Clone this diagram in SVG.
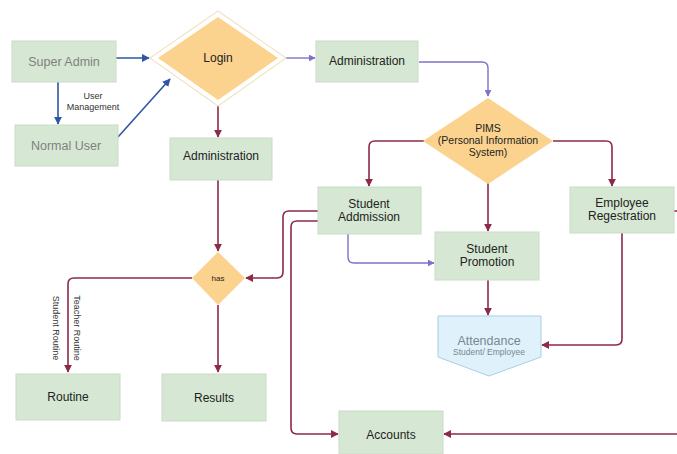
<svg xmlns="http://www.w3.org/2000/svg" width="677" height="454" viewBox="0 0 677 454">
<defs>
<marker id="ar" viewBox="0 0 10 10" refX="9" refY="5" markerWidth="5" markerHeight="5" orient="auto-start-reverse"><path d="M0,0 L10,5 L0,10 z" fill="#8c2a48"/></marker>
<marker id="ab" viewBox="0 0 10 10" refX="9" refY="5" markerWidth="5" markerHeight="5" orient="auto-start-reverse"><path d="M0,0 L10,5 L0,10 z" fill="#2f56a6"/></marker>
<marker id="ap" viewBox="0 0 10 10" refX="9" refY="5" markerWidth="5" markerHeight="5" orient="auto-start-reverse"><path d="M0,0 L10,5 L0,10 z" fill="#7c72c8"/></marker>
</defs>
<style>
text{font-family:"Liberation Sans",Arial,sans-serif;font-size:12px;fill:#222;text-anchor:middle}
.box{fill:#d6e8d3;stroke:#c8dcc4;stroke-width:1}
.gray{fill:#808080;font-size:12.5px}
.dia{fill:#fcd38e;stroke:none}
.r{fill:none;stroke:#8c2a48;stroke-width:1.6;marker-end:url(#ar)}
.b{fill:none;stroke:#2f56a6;stroke-width:1.6;marker-end:url(#ab)}
.p{fill:none;stroke:#7c72c8;stroke-width:1.4;marker-end:url(#ap)}
.sm{font-size:9px;fill:#333}
.pims{font-size:10.5px}
.att{fill:#7b8791;font-size:12.5px}
.att2{fill:#7b8791;font-size:8.5px}
.has{font-size:8px}
</style>
<rect width="677" height="454" fill="#fff"/>
<g id="connectors">
<path class="b" d="M116,58 H149"/>
<path class="b" d="M58,82 V124"/>
<path class="b" d="M118,137 L170,79"/>
<path class="r" d="M218,105 V137"/>
<path class="p" d="M285,58 H315"/>
<path class="p" d="M419,62 H482 Q488,62 488,68 V96"/>
<path class="r" d="M424,141 H375 Q369,141 369,147 V186"/>
<path class="r" d="M553,141 H606 Q612,141 612,147 V186"/>
<path class="r" d="M488,183 V231"/>
<path class="p" d="M348,234 V257 Q348,263 354,263 H434"/>
<path class="r" d="M488,280 V315"/>
<path class="r" d="M622,233 V339 Q622,345 616,345 H542"/>
<path class="r" d="M218,180 V251"/>
<path class="r" d="M318,211 H289 Q283,211 283,217 V272 Q283,278 277,278 H246"/>
<path class="r" d="M318,221 H297 Q291,221 291,227 V428 Q291,434 297,434 H338"/>
<path class="r" d="M674,211 H690 V434 H444"/>
<path class="r" d="M192,278 H74 Q68,278 68,284 V372"/>
<path class="r" d="M218,305 V372"/>
<text class="sm" x="93" y="99">User</text>
<text class="sm" x="93" y="110">Management</text>
<text class="sm" transform="translate(74,328) rotate(90)">Teacher Routine</text>
<text class="sm" transform="translate(53,328) rotate(90)">Student Routine</text>
</g>
<g id="super-admin"><rect class="box" x="12" y="41" width="104" height="41"/><text class="gray" x="64" y="66">Super Admin</text></g>
<g id="normal-user"><rect class="box" x="15" y="125" width="103" height="41"/><text class="gray" x="66" y="150">Normal User</text></g>
<g id="login"><path d="M218,11 L286,58 L218,106 L150,58 z" fill="#fff" stroke="#f3e3c4" stroke-width="1.2"/><path class="dia" d="M218,17 L278,58 L218,100 L158,58 z"/><text x="218" y="62">Login</text></g>
<g id="administration-left"><rect class="box" x="170" y="138" width="102" height="42"/><text x="221" y="160">Administration</text></g>
<g id="administration-right"><rect class="box" x="316" y="41" width="102" height="41"/><text x="367" y="65">Administration</text></g>
<g id="pims"><path class="dia" d="M488,98 L553,141 L488,184 L423,141 z"/><text class="pims" x="488" y="132">PIMS</text><text class="pims" x="488" y="144">(Personal Information</text><text class="pims" x="488" y="156">System)</text></g>
<g id="student-addmission"><rect class="box" x="318" y="187" width="103" height="47"/><text x="369" y="208">Student</text><text x="369" y="221">Addmission</text></g>
<g id="employee-regestration"><rect class="box" x="570" y="187" width="104" height="46"/><text x="622" y="207">Employee</text><text x="622" y="220">Regestration</text></g>
<g id="student-promotion"><rect class="box" x="435" y="232" width="104" height="48"/><text x="487" y="253">Student</text><text x="487" y="266">Promotion</text></g>
<g id="attendance"><path d="M438,316 H541 V357 L489,376 L438,357 z" fill="#dff1fb" stroke="#a9cfe2" stroke-width="1"/><text class="att" x="489" y="345">Attendance</text><text class="att2" x="489" y="355">Student/ Employee</text></g>
<g id="has"><path class="dia" d="M218,252 L245,278 L218,305 L192,278 z"/><text class="has" x="218" y="281">has</text></g>
<g id="routine"><rect class="box" x="16" y="374" width="104" height="46"/><text x="68" y="401">Routine</text></g>
<g id="results"><rect class="box" x="162" y="374" width="104" height="47"/><text x="214" y="402">Results</text></g>
<g id="accounts"><rect class="box" x="339" y="411" width="104" height="43"/><text x="391" y="439">Accounts</text></g>
</svg>
